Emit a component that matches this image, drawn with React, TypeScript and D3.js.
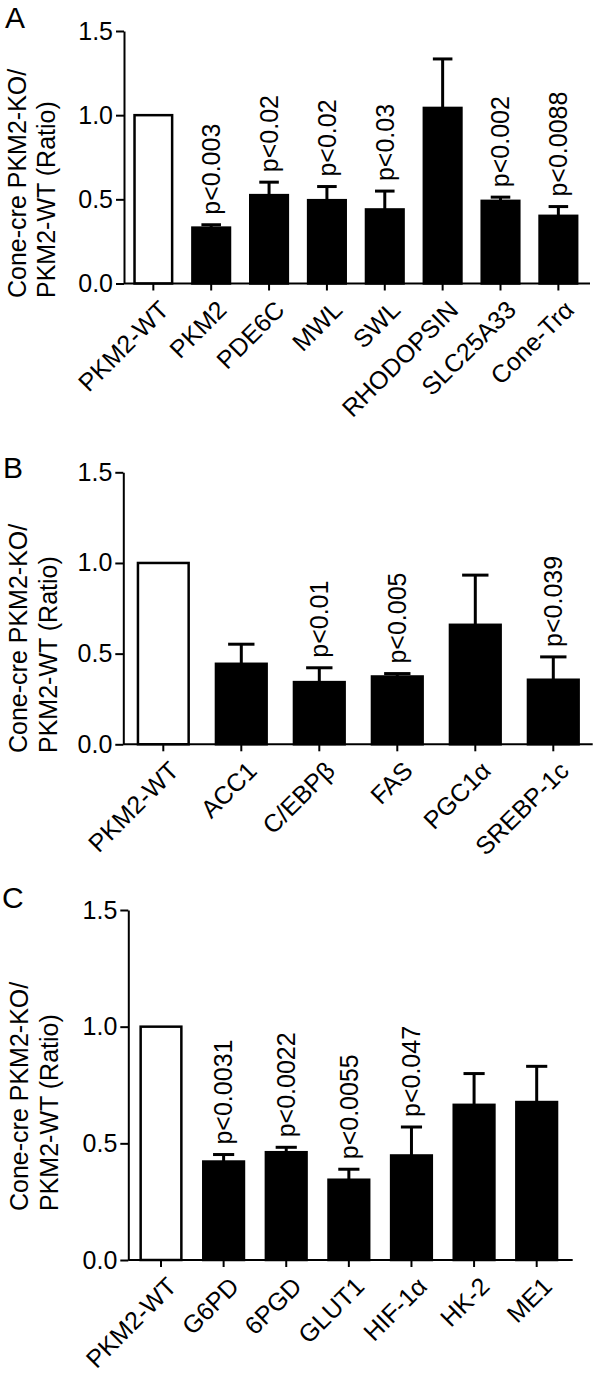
import React, { useEffect, useRef } from 'react'
import * as d3 from 'd3'

// panel A - photoreceptor genes
const catsA = ['PKM2-WT', 'PKM2', 'PDE6C', 'MWL', 'SWL', 'RHODOPSIN', 'SLC25A33', 'Cone-Trα']
const meanA = [1.0, 0.332, 0.525, 0.495, 0.44, 1.043, 0.491, 0.402]
const semA = [0, 0.017, 0.077, 0.081, 0.109, 0.291, 0.022, 0.055]
const pA = ['', 'p<0.003', 'p<0.02', 'p<0.02', 'p<0.03', '', 'p<0.002', 'p<0.0088']

// panel B - lipid genes
const catsB = ['PKM2-WT', 'ACC1', 'C/EBPβ', 'FAS', 'PGC1α', 'SREBP-1c']
const meanB = [1.0, 0.444, 0.343, 0.374, 0.659, 0.356]
const semB = [0, 0.108, 0.079, 0.016, 0.274, 0.126]
const pB = ['', '', 'p<0.01', 'p<0.005', '', 'p<0.039']

// panel C - glycolysis / PPP genes
const catsC = ['PKM2-WT', 'G6PD', '6PGD', 'GLUT1', 'HIF-1α', 'HK-2', 'ME1']
const meanC = [1.0, 0.422, 0.462, 0.344, 0.448, 0.665, 0.677]
const semC = [0, 0.03, 0.021, 0.045, 0.122, 0.134, 0.153]
const pC = ['', 'p<0.0031', 'p<0.0022', 'p<0.0055', 'p<0.047', '', '']

const yTicks = [0, 0.5, 1.0, 1.5]
const yTitle = ['Cone-cre PKM2-KO/', 'PKM2-WT (Ratio)']

const font = '"Liberation Sans", Arial, Helvetica, sans-serif'

const panels = [
  { letter: 'A', cats: catsA, mean: meanA, sem: semA, p: pA,
    yAxisX: 124, bandL: 124.4, bandR: 587.3, axisEnd: 590, yTop: 31, yBase: 283.5,
    letterX: 5, letterY: 28.3, titleY: 298, titleX: [26, 55] },
  { letter: 'B', cats: catsB, mean: meanB, sem: semB, p: pB,
    yAxisX: 123.3, bandL: 124.3, bandR: 592.3, axisEnd: 592.7, yTop: 472.3, yBase: 744.3,
    letterX: 3, letterY: 478.3, titleY: 753, titleX: [26.5, 57] },
  { letter: 'C', cats: catsC, mean: meanC, sem: semC, p: pC,
    yAxisX: 128.3, bandL: 129.7, bandR: 568, axisEnd: 572.7, yTop: 910, yBase: 1260,
    letterX: 2, letterY: 907.8, titleY: 1211, titleX: [28, 58] },
]

function App() {
  const ref = useRef<SVGSVGElement>(null)

  useEffect(() => {
    const svg = d3.select(ref.current)
    svg.selectAll('*').remove()

    panels.forEach(pn => {
      const g = svg.append('g').attr('font-family', font)
      const x = d3.scaleBand().domain(pn.cats).range([pn.bandL, pn.bandR]).paddingInner(0.35).paddingOuter(0.175)
      const y = d3.scaleLinear().domain([0, 1.5]).range([pn.yBase, pn.yTop])
      const bw = x.bandwidth()

      // bars
      g.selectAll('rect.bar').data(pn.cats).enter().append('rect')
        .attr('x', d => x(d)!)
        .attr('y', (d, i) => y(pn.mean[i]))
        .attr('width', bw)
        .attr('height', (d, i) => pn.yBase - y(pn.mean[i]))
        .attr('fill', (d, i) => i == 0 ? '#fff' : '#000')
        .attr('stroke', '#000').attr('stroke-width', 2.5)

      // error bars (upper only)
      pn.cats.forEach((c, i) => {
        if (!pn.sem[i]) return
        const cx = x(c)! + bw / 2
        const top = y(pn.mean[i] + pn.sem[i])
        g.append('line').attr('x1', cx).attr('x2', cx).attr('y1', y(pn.mean[i])).attr('y2', top)
          .attr('stroke', '#000').attr('stroke-width', 3)
        g.append('line').attr('x1', cx - bw * 0.26).attr('x2', cx + bw * 0.26).attr('y1', top).attr('y2', top)
          .attr('stroke', '#000').attr('stroke-width', 3)
      })

      // p values
      pn.cats.forEach((c, i) => {
        if (!pn.p[i]) return
        const cx = x(c)! + bw / 2
        const ty = y(pn.mean[i] + pn.sem[i]) - 10
        g.append('text').text(pn.p[i])
          .attr('transform', `translate(${cx},${ty}) rotate(-90)`)
          .attr('dy', '0.35em').attr('text-anchor', 'start')
          .attr('font-size', 25).attr('fill', '#000')
      })

      // y axis
      const ya = g.append('g').attr('transform', `translate(${pn.yAxisX},0)`)
        .call(d3.axisLeft(y).tickValues(yTicks).tickFormat(d3.format('.1f')).tickSize(8).tickPadding(3).tickSizeOuter(0))
      ya.selectAll('path,line').attr('stroke', '#000').attr('stroke-width', 2)
      ya.selectAll('text').attr('font-size', 25).attr('font-family', font).attr('fill', '#000')

      // x axis
      g.append('line').attr('x1', pn.yAxisX).attr('x2', pn.axisEnd).attr('y1', pn.yBase).attr('y2', pn.yBase)
        .attr('stroke', '#000').attr('stroke-width', 2)
      pn.cats.forEach(c => {
        const cx = x(c)! + bw / 2
        g.append('line').attr('x1', cx).attr('x2', cx).attr('y1', pn.yBase).attr('y2', pn.yBase + 7)
          .attr('stroke', '#000').attr('stroke-width', 2)
        g.append('text').text(c)
          .attr('transform', `translate(${cx + 17},${pn.yBase + 28}) rotate(-45)`)
          .attr('text-anchor', 'end').attr('font-size', 25).attr('fill', '#000')
      })

      // y title, two lines
      yTitle.forEach((t, k) => {
        g.append('text').text(t)
          .attr('transform', `translate(${pn.titleX[k]},${pn.titleY}) rotate(-90)`)
          .attr('text-anchor', 'start').attr('font-size', 25).attr('fill', '#000')
      })

      // panel letter
      g.append('text').text(pn.letter).attr('x', pn.letterX).attr('y', pn.letterY)
        .attr('font-size', 30).attr('fill', '#000')
    })
  }, [])

  return (
    <svg ref={ref} width={600} height={1375}
      style={{ position: 'absolute', left: 0, top: 0, background: '#fff' }} />
  )
}

export default App
